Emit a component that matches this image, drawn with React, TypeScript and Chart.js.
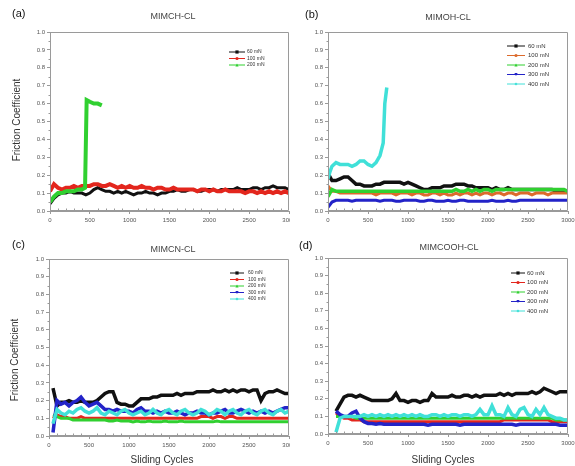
import React, { useEffect, useRef } from "react";
import { Chart, registerables } from "chart.js";
Chart.register(...registerables);

// ---------------- data ----------------
const CYCLES = [0,50,100,150,200,250,300,350,400,450,500,550,600,650,700,750,800,850,900,950,1000,1050,1100,1150,1200,1250,1300,1350,1400,1450,1500,1550,1600,1650,1700,1750,1800,1850,1900,1950,2000,2050,2100,2150,2200,2250,2300,2350,2400,2450,2500,2550,2600,2650,2700,2750,2800,2850,2900,2950,3000];
const X_TICKS = [0, 500, 1000, 1500, 2000, 2500, 3000];
const X_MINOR = [100,200,300,400,600,700,800,900,1100,1200,1300,1400,1600,1700,1800,1900,2100,2200,2300,2400,2600,2700,2800,2900];
const Y_MINOR = [0.05,0.15,0.25,0.35,0.45,0.55,0.65,0.75,0.85,0.95];
const LOADS = ["60 mN", "100 mN", "200 mN", "300 mN", "400 mN"];
const TITLES = ["MIMCH-CL", "MIMOH-CL", "MIMCN-CL", "MIMCOOH-CL"];
const LETTERS = ["(a)", "(b)", "(c)", "(d)"];

// (a) MIMCH-CL
const A_60 = [0.04,0.07,0.09,0.10,0.10,0.11,0.10,0.10,0.10,0.09,
  0.10,0.12,0.13,0.12,0.11,0.11,0.10,0.11,0.10,0.11,
  0.10,0.09,0.10,0.10,0.11,0.10,0.10,0.09,0.10,0.10,
  0.11,0.11,0.12,0.11,0.11,0.12,0.12,0.11,0.11,0.12,
  0.12,0.12,0.11,0.12,0.12,0.12,0.12,0.13,0.12,0.12,
  0.12,0.13,0.13,0.12,0.13,0.13,0.14,0.13,0.13,0.13,
  0.12];
const A_100 = [0.11,0.15,0.13,0.12,0.13,0.13,0.14,0.13,0.14,0.14,
  0.14,0.15,0.15,0.14,0.14,0.15,0.14,0.13,0.14,0.13,
  0.14,0.13,0.13,0.14,0.13,0.13,0.12,0.13,0.13,0.12,
  0.12,0.13,0.12,0.12,0.12,0.12,0.12,0.11,0.12,0.12,
  0.11,0.12,0.11,0.11,0.12,0.11,0.11,0.11,0.11,0.10,
  0.11,0.11,0.10,0.11,0.10,0.11,0.10,0.11,0.10,0.11,
  0.10];
const A_200_CYCLES = [0,50,100,150,200,250,300,350,400,440,460,500,550,600,650];
const A_200 = [0.05,0.08,0.10,0.10,0.11,0.11,0.11,0.12,0.12,0.13,0.62,0.61,0.60,0.60,0.59];

// (b) MIMOH-CL
const B_60 = [0.21,0.17,0.17,0.18,0.19,0.19,0.17,0.15,0.15,0.14,
  0.14,0.14,0.15,0.15,0.16,0.16,0.16,0.16,0.16,0.15,
  0.16,0.15,0.14,0.13,0.12,0.12,0.13,0.13,0.13,0.14,
  0.14,0.14,0.15,0.15,0.15,0.14,0.14,0.13,0.13,0.13,
  0.13,0.12,0.13,0.12,0.12,0.13,0.12,0.12,0.12,0.12,
  0.12,0.12,0.12,0.12,0.12,0.12,0.12,0.11,0.11,0.11,
  0.11];
const B_100 = [0.14,0.11,0.11,0.10,0.10,0.10,0.10,0.10,0.10,0.10,
  0.10,0.10,0.09,0.10,0.10,0.10,0.10,0.09,0.10,0.10,
  0.10,0.09,0.10,0.10,0.09,0.09,0.10,0.10,0.09,0.10,
  0.09,0.09,0.10,0.09,0.10,0.10,0.09,0.10,0.09,0.10,
  0.10,0.09,0.10,0.10,0.09,0.10,0.10,0.09,0.10,0.10,
  0.10,0.09,0.10,0.10,0.10,0.09,0.10,0.10,0.10,0.10,
  0.10];
const B_200 = [0.08,0.12,0.11,0.11,0.11,0.11,0.11,0.11,0.11,0.11,
  0.11,0.11,0.11,0.11,0.11,0.11,0.11,0.11,0.11,0.11,
  0.11,0.11,0.11,0.11,0.11,0.11,0.11,0.11,0.11,0.11,
  0.11,0.11,0.12,0.11,0.11,0.12,0.11,0.12,0.11,0.12,
  0.12,0.11,0.12,0.12,0.12,0.12,0.12,0.12,0.12,0.12,
  0.12,0.12,0.12,0.12,0.12,0.12,0.12,0.12,0.12,0.12,
  0.11];
const B_300 = [0.02,0.05,0.06,0.06,0.06,0.06,0.055,0.06,0.06,0.06,
  0.06,0.06,0.06,0.055,0.06,0.06,0.06,0.055,0.055,0.06,
  0.06,0.06,0.06,0.055,0.055,0.06,0.06,0.055,0.055,0.055,
  0.06,0.055,0.055,0.06,0.06,0.055,0.055,0.055,0.055,0.055,
  0.055,0.06,0.055,0.055,0.055,0.06,0.055,0.055,0.06,0.06,
  0.06,0.06,0.06,0.06,0.06,0.06,0.06,0.06,0.06,0.06,
  0.06];
const B_400_CYCLES = [0,25,50,100,150,200,250,300,350,400,450,500,550,600,650,690,710,735];
const B_400 = [0.18,0.22,0.25,0.27,0.26,0.26,0.26,0.25,0.26,0.28,0.28,0.26,0.25,0.27,0.31,0.38,0.60,0.69];

// (c) MIMCN-CL
const C_60 = [null,0.27,0.17,0.19,0.19,0.20,0.19,0.19,0.20,0.19,
  0.19,0.19,0.20,0.22,0.24,0.25,0.25,0.19,0.18,0.18,
  0.17,0.17,0.19,0.21,0.21,0.21,0.22,0.22,0.23,0.23,
  0.23,0.23,0.24,0.23,0.24,0.24,0.24,0.25,0.25,0.25,
  0.25,0.26,0.25,0.25,0.26,0.25,0.26,0.25,0.26,0.26,
  0.25,0.26,0.26,0.20,0.24,0.25,0.25,0.26,0.25,0.24,
  0.24];
const C_100 = [null,0.10,0.12,0.11,0.11,0.10,0.10,0.10,0.11,0.10,
  0.10,0.10,0.10,0.10,0.10,0.10,0.10,0.10,0.10,0.10,
  0.10,0.10,0.10,0.10,0.10,0.10,0.10,0.10,0.10,0.10,
  0.10,0.10,0.10,0.10,0.10,0.10,0.10,0.10,0.11,0.11,
  0.11,0.10,0.11,0.11,0.10,0.11,0.11,0.10,0.10,0.10,
  0.10,0.10,0.10,0.10,0.10,0.10,0.10,0.10,0.10,0.10,
  0.10];
const C_200 = [null,0.12,0.11,0.10,0.10,0.10,0.09,0.09,0.09,0.09,
  0.09,0.09,0.09,0.09,0.09,0.085,0.085,0.09,0.085,0.085,
  0.085,0.08,0.085,0.08,0.08,0.085,0.08,0.08,0.08,0.085,
  0.08,0.08,0.08,0.085,0.08,0.08,0.08,0.08,0.08,0.08,
  0.08,0.08,0.085,0.08,0.08,0.08,0.08,0.08,0.08,0.08,
  0.08,0.08,0.08,0.08,0.08,0.08,0.08,0.08,0.08,0.08,
  0.08];
const C_300 = [null,0.02,0.20,0.18,0.19,0.17,0.19,0.20,0.22,0.19,
  0.17,0.18,0.19,0.17,0.15,0.15,0.14,0.15,0.14,0.14,
  0.14,0.13,0.15,0.16,0.14,0.14,0.13,0.14,0.13,0.14,
  0.13,0.13,0.14,0.13,0.12,0.13,0.13,0.14,0.13,0.13,
  0.12,0.13,0.13,0.14,0.15,0.13,0.13,0.14,0.15,0.14,
  0.13,0.14,0.13,0.14,0.13,0.14,0.13,0.14,0.15,0.16,
  0.16];
const C_400 = [null,0.07,0.15,0.13,0.12,0.14,0.13,0.15,0.16,0.14,
  0.13,0.14,0.16,0.13,0.12,0.14,0.13,0.12,0.14,0.15,
  0.13,0.12,0.13,0.14,0.12,0.13,0.15,0.13,0.12,0.14,
  0.15,0.13,0.12,0.14,0.15,0.13,0.12,0.13,0.15,0.14,
  0.12,0.13,0.15,0.14,0.12,0.14,0.15,0.13,0.12,0.14,
  0.15,0.13,0.12,0.14,0.15,0.13,0.12,0.14,0.15,0.13,
  0.14];

// (d) MIMCOOH-CL
const D_60 = [null,null,0.13,0.17,0.21,0.22,0.22,0.21,0.22,0.21,
  0.20,0.19,0.19,0.19,0.19,0.19,0.20,0.23,0.19,0.19,
  0.18,0.19,0.19,0.18,0.19,0.19,0.23,0.21,0.21,0.21,
  0.21,0.22,0.21,0.21,0.22,0.22,0.21,0.22,0.21,0.22,
  0.22,0.22,0.22,0.23,0.22,0.23,0.22,0.23,0.23,0.23,
  0.23,0.24,0.23,0.24,0.26,0.25,0.24,0.23,0.24,0.24,
  0.24];
const D_100 = [null,null,0.12,0.10,0.09,0.09,0.08,0.08,0.08,0.07,
  0.07,0.07,0.07,0.07,0.07,0.07,0.07,0.07,0.07,0.07,
  0.07,0.07,0.07,0.07,0.07,0.07,0.07,0.07,0.07,0.07,
  0.07,0.07,0.07,0.07,0.07,0.07,0.07,0.07,0.07,0.07,
  0.07,0.07,0.07,0.07,0.08,0.08,0.08,0.08,0.08,0.08,
  0.08,0.08,0.08,0.08,0.08,0.08,0.07,0.07,0.07,0.07,
  0.07];
const D_200 = [null,null,0.10,0.10,0.10,0.10,0.10,0.09,0.09,0.09,
  0.09,0.09,0.09,0.09,0.09,0.09,0.09,0.09,0.09,0.09,
  0.09,0.09,0.09,0.09,0.09,0.09,0.09,0.09,0.09,0.09,
  0.09,0.09,0.09,0.09,0.09,0.09,0.09,0.09,0.09,0.09,
  0.09,0.09,0.09,0.09,0.09,0.09,0.09,0.09,0.09,0.09,
  0.09,0.09,0.09,0.09,0.09,0.09,0.09,0.08,0.08,0.08,
  0.08];
const D_300 = [null,null,0.13,0.11,0.10,0.10,0.12,0.13,0.09,0.07,
  0.06,0.06,0.055,0.06,0.055,0.055,0.055,0.055,0.055,0.055,
  0.055,0.055,0.055,0.055,0.055,0.05,0.055,0.055,0.055,0.055,
  0.055,0.055,0.055,0.05,0.055,0.055,0.055,0.055,0.055,0.055,
  0.055,0.055,0.055,0.055,0.055,0.055,0.055,0.05,0.055,0.055,
  0.055,0.055,0.055,0.055,0.055,0.055,0.055,0.055,0.05,0.05,
  0.05];
const D_400 = [null,null,0.01,0.09,0.10,0.10,0.10,0.10,0.10,0.11,
  0.10,0.11,0.10,0.11,0.10,0.11,0.10,0.11,0.10,0.11,
  0.10,0.11,0.10,0.11,0.10,0.10,0.11,0.11,0.10,0.11,
  0.10,0.11,0.11,0.10,0.11,0.11,0.10,0.11,0.14,0.11,
  0.11,0.16,0.11,0.11,0.10,0.15,0.11,0.10,0.14,0.15,
  0.11,0.10,0.14,0.11,0.15,0.11,0.10,0.09,0.09,0.08,
  0.08];

// ---------------- styling ----------------
const FONT = "'Liberation Sans', Arial, sans-serif";
const FRAME = "#9a9a9a";
const TICK_COLOR = "#555";
const COL_BLACK = "#111111";
const COL_RED = "#e3261d";
const COL_ORANGE = "#dc6a2c";
const COL_GREEN = "#30d030";
const COL_BLUE = "#2323c8";
const COL_CYAN = "#40e0d8";

type Series = { label: string; x: number[]; y: (number | null)[]; color: string; width: number; marker: string };
type Panel = {
  left: number; top: number; w: number; h: number;
  area: { left: number; right: number; top: number; bottom: number };
  title: string; titleX: number; titleY: number;
  letter: string; letterX: number; letterY: number;
  yLabel?: { x: number; y: number };
  xLabel?: { x: number; y: number };
  legend: { lineX0: number; lineX1: number; textX: number; y0: number; dy: number; size: number };
  series: Series[];
};

const MARKERS = ["square", "circle", "triUp", "triDown", "diamond"];

const PANELS: Panel[] = [
  {
    left: 0, top: 0, w: 290, h: 232,
    area: { left: 50, right: 289, top: 32, bottom: 211 },
    title: TITLES[0], titleX: 173, titleY: 17, letter: LETTERS[0], letterX: 12, letterY: 14,
    yLabel: { x: 17, y: 120 },
    legend: { lineX0: 229, lineX1: 245, textX: 247, y0: 52, dy: 6.5, size: 5 },
    series: [
      { label: LOADS[0], x: CYCLES, y: A_60, color: COL_BLACK, width: 3, marker: MARKERS[0] },
      { label: LOADS[1], x: CYCLES, y: A_100, color: COL_RED, width: 4, marker: MARKERS[1] },
      { label: LOADS[2], x: A_200_CYCLES, y: A_200, color: COL_GREEN, width: 4, marker: MARKERS[2] },
    ],
  },
  {
    left: 290, top: 0, w: 285, h: 232,
    area: { left: 38, right: 278, top: 32, bottom: 211 },
    title: TITLES[1], titleX: 158, titleY: 18, letter: LETTERS[1], letterX: 15, letterY: 15,
    legend: { lineX0: 217, lineX1: 235, textX: 238, y0: 46, dy: 9.5, size: 6 },
    series: [
      { label: LOADS[0], x: CYCLES, y: B_60, color: COL_BLACK, width: 3.5, marker: MARKERS[0] },
      { label: LOADS[1], x: CYCLES, y: B_100, color: COL_ORANGE, width: 3, marker: MARKERS[1] },
      { label: LOADS[2], x: CYCLES, y: B_200, color: COL_GREEN, width: 3.5, marker: MARKERS[2] },
      { label: LOADS[3], x: CYCLES, y: B_300, color: COL_BLUE, width: 3, marker: MARKERS[3] },
      { label: LOADS[4], x: B_400_CYCLES, y: B_400, color: COL_CYAN, width: 3.5, marker: MARKERS[4] },
    ],
  },
  {
    left: 0, top: 232, w: 290, h: 234,
    area: { left: 49, right: 289, top: 27, bottom: 204 },
    title: TITLES[2], titleX: 173, titleY: 18, letter: LETTERS[2], letterX: 12, letterY: 13,
    yLabel: { x: 15, y: 128 },
    xLabel: { x: 162, y: 228 },
    legend: { lineX0: 230, lineX1: 244, textX: 248, y0: 41, dy: 6.5, size: 5 },
    series: [
      { label: LOADS[0], x: CYCLES, y: C_60, color: COL_BLACK, width: 3.5, marker: MARKERS[0] },
      { label: LOADS[1], x: CYCLES, y: C_100, color: COL_RED, width: 3, marker: MARKERS[1] },
      { label: LOADS[2], x: CYCLES, y: C_200, color: COL_GREEN, width: 3, marker: MARKERS[2] },
      { label: LOADS[3], x: CYCLES, y: C_300, color: COL_BLUE, width: 3.5, marker: MARKERS[3] },
      { label: LOADS[4], x: CYCLES, y: C_400, color: COL_CYAN, width: 3.5, marker: MARKERS[4] },
    ],
  },
  {
    left: 290, top: 232, w: 285, h: 234,
    area: { left: 38, right: 278, top: 26, bottom: 202 },
    title: TITLES[3], titleX: 159, titleY: 16, letter: LETTERS[3], letterX: 9, letterY: 14,
    xLabel: { x: 153, y: 228 },
    legend: { lineX0: 221, lineX1: 235, textX: 237, y0: 41, dy: 9.5, size: 6 },
    series: [
      { label: LOADS[0], x: CYCLES, y: D_60, color: COL_BLACK, width: 3.5, marker: MARKERS[0] },
      { label: LOADS[1], x: CYCLES, y: D_100, color: COL_RED, width: 3, marker: MARKERS[1] },
      { label: LOADS[2], x: CYCLES, y: D_200, color: COL_GREEN, width: 3, marker: MARKERS[2] },
      { label: LOADS[3], x: CYCLES, y: D_300, color: COL_BLUE, width: 3.5, marker: MARKERS[3] },
      { label: LOADS[4], x: CYCLES, y: D_400, color: COL_CYAN, width: 3.5, marker: MARKERS[4] },
    ],
  },
];

function drawMarker(ctx: CanvasRenderingContext2D, kind: string, x: number, y: number, r: number) {
  ctx.beginPath();
  if (kind === "square") ctx.rect(x - r, y - r, 2 * r, 2 * r);
  else if (kind === "circle") ctx.arc(x, y, r, 0, Math.PI * 2);
  else if (kind === "triUp") { ctx.moveTo(x, y - r); ctx.lineTo(x + r, y + r); ctx.lineTo(x - r, y + r); ctx.closePath(); }
  else if (kind === "triDown") { ctx.moveTo(x, y + r); ctx.lineTo(x + r, y - r); ctx.lineTo(x - r, y - r); ctx.closePath(); }
  else { ctx.moveTo(x, y - r); ctx.lineTo(x + r, y); ctx.lineTo(x, y + r); ctx.lineTo(x - r, y); ctx.closePath(); }
  ctx.fill();
}

const decorPlugin = {
  id: "decor",
  afterDraw(chart: any, _args: any, opts: any) {
    const p: Panel = opts.panel;
    const { ctx, chartArea: a, scales } = chart;
    const xs = scales.x, ys = scales.y;
    ctx.save();
    // frame
    ctx.strokeStyle = FRAME;
    ctx.lineWidth = 1;
    const L = Math.round(a.left) + 0.5, R = Math.round(a.right) - 0.5;
    const T = Math.round(a.top) + 0.5, B = Math.round(a.bottom) - 0.5;
    ctx.beginPath();
    ctx.moveTo(L, B); ctx.lineTo(L, T); ctx.lineTo(R, T); ctx.lineTo(R, B); ctx.lineTo(L, B);
    ctx.stroke();
    // minor ticks
    ctx.beginPath();
    for (const c of X_MINOR) {
      const px = Math.round(xs.getPixelForValue(c)) + 0.5;
      ctx.moveTo(px, B); ctx.lineTo(px, B - 2);
    }
    for (const v of Y_MINOR) {
      const py = Math.round(ys.getPixelForValue(v)) + 0.5;
      ctx.moveTo(L, py); ctx.lineTo(L - 2, py);
    }
    ctx.stroke();

    // texts
    ctx.textBaseline = "middle";
    ctx.fillStyle = "#111";
    ctx.textAlign = "left";
    ctx.font = `11px ${FONT}`;
    ctx.fillText(p.letter, p.letterX, p.letterY);

    ctx.textAlign = "center";
    ctx.fillStyle = "#444";
    ctx.font = `9px ${FONT}`;
    ctx.fillText(p.title, p.titleX, p.titleY);

    ctx.font = `10px ${FONT}`;
    ctx.fillStyle = "#333";
    if (p.yLabel) {
      ctx.save();
      ctx.translate(p.yLabel.x, p.yLabel.y);
      ctx.rotate(-Math.PI / 2);
      ctx.fillText("Friction Coefficient", 0, 0);
      ctx.restore();
    }
    if (p.xLabel) ctx.fillText("Sliding Cycles", p.xLabel.x, p.xLabel.y);

    // legend
    const lg = p.legend;
    ctx.font = `${lg.size}px ${FONT}`;
    ctx.textAlign = "left";
    chart.data.datasets.forEach((ds: any, i: number) => {
      const y = lg.y0 + i * lg.dy;
      const s = p.series[i];
      ctx.strokeStyle = ds.borderColor;
      ctx.fillStyle = ds.borderColor;
      ctx.lineWidth = 1;
      ctx.beginPath();
      ctx.moveTo(lg.lineX0, y); ctx.lineTo(lg.lineX1, y);
      ctx.stroke();
      drawMarker(ctx, s.marker, (lg.lineX0 + lg.lineX1) / 2, y, 1.6);
      ctx.fillStyle = "#333";
      ctx.fillText(ds.label, lg.textX, y);
    });
    ctx.restore();
  },
};

function buildConfig(p: Panel): any {
  const n = p.series.length;
  return {
    type: "line",
    data: {
      datasets: p.series.map((s, i) => {
        const pts: { x: number; y: number }[] = [];
        s.x.forEach((xv, j) => {
          const yv = s.y[j];
          if (yv !== null && yv !== undefined) pts.push({ x: xv, y: yv });
        });
        return {
          label: s.label,
          data: pts,
          borderColor: s.color,
          backgroundColor: s.color,
          borderWidth: s.width,
          pointRadius: 0,
          tension: 0,
          fill: false,
          order: n - i,
        };
      }),
    },
    options: {
      animation: false,
      responsive: false,
      maintainAspectRatio: false,
      devicePixelRatio: 1,
      events: [],
      layout: { padding: { left: 0, top: p.area.top, right: p.w - p.area.right, bottom: 0 } },
      plugins: { legend: { display: false }, tooltip: { enabled: false }, title: { display: false }, decor: { panel: p } },
      scales: {
        x: {
          type: "linear",
          min: 0,
          max: 3000,
          afterBuildTicks: (scale: any) => { scale.ticks = X_TICKS.map((v) => ({ value: v })); },
          ticks: { color: TICK_COLOR, font: { size: 6, family: FONT }, padding: 3, maxRotation: 0, autoSkip: false, callback: (v: any) => String(v) },
          grid: { drawOnChartArea: false, drawTicks: true, tickLength: 3, color: FRAME },
          border: { display: true, color: FRAME },
          afterFit: (scale: any) => { scale.height = p.h - p.area.bottom; scale.paddingLeft = 0; scale.paddingRight = 0; },
        },
        y: {
          type: "linear",
          min: 0,
          max: 1,
          ticks: { stepSize: 0.1, color: TICK_COLOR, font: { size: 6, family: FONT }, padding: 2, callback: (v: any) => Number(v).toFixed(1) },
          grid: { drawOnChartArea: false, drawTicks: true, tickLength: 3, color: FRAME },
          border: { display: true, color: FRAME },
          afterFit: (scale: any) => { scale.width = p.area.left; scale.paddingTop = 0; scale.paddingBottom = 0; },
        },
      },
    },
    plugins: [decorPlugin],
  };
}

function PanelChart({ p }: { p: Panel }) {
  const ref = useRef<HTMLCanvasElement | null>(null);
  useEffect(() => {
    if (!ref.current) return;
    const chart = new Chart(ref.current, buildConfig(p));
    return () => chart.destroy();
  }, [p]);
  return (
    <canvas
      ref={ref}
      width={p.w}
      height={p.h}
      style={{ position: "absolute", left: p.left, top: p.top, width: p.w, height: p.h }}
    />
  );
}

export default function App() {
  return (
    <div style={{ position: "absolute", left: 0, top: 0, width: 575, height: 466, background: "#fff", overflow: "hidden" }}>
      {PANELS.map((p, i) => (
        <PanelChart key={i} p={p} />
      ))}
    </div>
  );
}
